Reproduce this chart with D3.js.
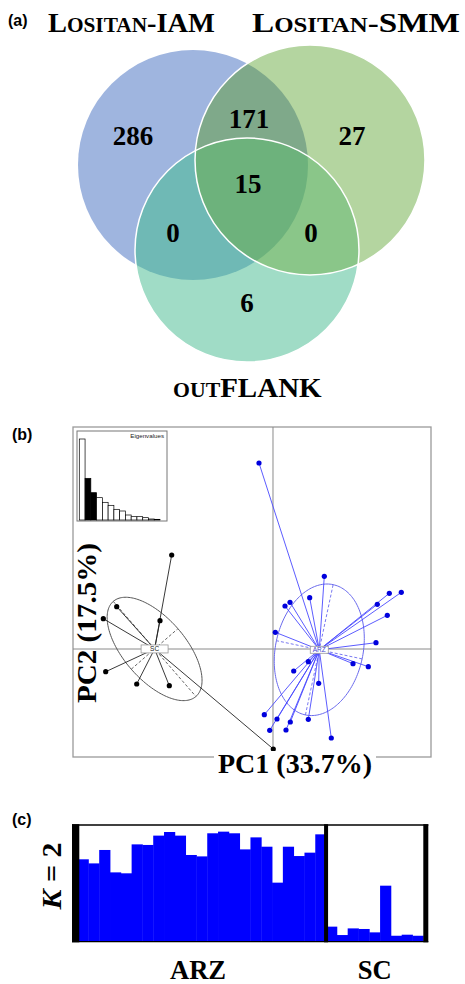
<!DOCTYPE html>
<html><head><meta charset="utf-8">
<script src="https://cdn.jsdelivr.net/npm/d3@7"></script>
<style>body{margin:0;background:#fff}svg{display:block}</style>
</head><body>
<script>
// ---------------- DATA ----------------
// (a) Venn diagram
const vennRegions = ["A", "B", "C", "AB", "AC", "BC", "ABC"];
const vennCounts  = [286, 27, 6, 171, 0, 0, 15];
// (b) PCA scores
const scPC1  = [-3.377, -3.767, -5.21, -5.657, -5.577, -4.543, -3.457, 0.01];
const scPC2  = [3.133, 0.943, 1.41, 1.01, -0.757, -1.167, -1.223, -3.333];
const arzPC1 = [3.877, 4.277, 3.477, 3.81, 3.433, 2.667, 3.177, 1.223, 0.567, 0.4, 0.077, 1.177,
                0.69, 1.523, -0.29, 0.133, 0.577, 1.177, -0.11, 0.433, 1.943, -0.467, 1.71];
const arzPC2 = [1.857, 1.89, 1.49, 1.123, 0.21, -0.49, -0.59, 1.71, 1.557, 1.433, 0.557, -0.423,
                -0.733, -1.143, -2.19, -2.333, -2.433, -2.343, -2.71, -2.7, -2.967, 6.2, 2.423];
const ellipseSC  = [2.1, 1.03, -49];   // semi-axis a, semi-axis b, angle
const ellipseARZ = [2.22, 1.46, 78];
const eigenvalues = [243, 125, 82, 67, 53, 44, 32, 27, 15, 10, 10, 7, 3, 2];
const axisLabels = ["PC1 (33.7%)", "PC2 (17.5%)"];
// (c) STRUCTURE K = 2 membership
const arzQ = [0.706, 0.671, 0.786, 0.594, 0.586, 0.834, 0.829, 0.909, 0.94, 0.909, 0.743, 0.731,
              0.929, 0.943, 0.929, 0.791, 0.894, 0.814, 0.506, 0.814, 0.734, 0.763, 0.92];
const scQ  = [0.129, 0.057, 0.114, 0.109, 0.08, 0.48, 0.051, 0.06, 0.051];
const popLabels = ["ARZ", "SC"];

// ---------------- SETUP ----------------
const W = 465, H = 984;
const svg = d3.select("body").append("svg").attr("width", W).attr("height", H);
const SERIF = "'Liberation Serif','Times New Roman',serif";
const SANS = "'Liberation Sans',Arial,sans-serif";

function fitLabel(parent, x, y, parts, width, rot, anchor) {
  const g = parent.append("g");
  const t = g.append("text").attr("font-family", SERIF).attr("font-weight", "bold")
    .attr("text-anchor", anchor || "start").attr("fill", "#000");
  parts.forEach(p => {
    const s = t.append("tspan").text(p[0]).attr("font-size", p[1]);
    if (p[2]) s.attr("font-style", p[2]);
  });
  const bw = t.node().getBBox().width;
  g.attr("transform", `translate(${x},${y}) rotate(${rot || 0}) scale(${width / bw},1)`);
  return g;
}
function panelLetter(txt, x, y) {
  svg.append("text").attr("x", x).attr("y", y).attr("font-family", SANS)
    .attr("font-weight", "bold").attr("font-size", 16).text(txt);
}

// ---------------- (a) VENN ----------------
const circ = { A: { x: 193, y: 165, r: 115 }, B: { x: 310, y: 160, r: 115 }, C: { x: 247, y: 250, r: 112 } };
const col = { A: "#9fb5df", B: "#b4d5a0", C: "#a0dcc6", AB: "#7fa98a", AC: "#6fb9b5", BC: "#8ac689", ABC: "#6db27c" };
const defs = svg.append("defs");
["A", "B"].forEach(k => defs.append("clipPath").attr("id", "clip" + k)
  .append("circle").attr("cx", circ[k].x).attr("cy", circ[k].y).attr("r", circ[k].r));
const venn = svg.append("g");
function circle(parent, k, fill) {
  return parent.append("circle").attr("cx", circ[k].x).attr("cy", circ[k].y).attr("r", circ[k].r).attr("fill", fill);
}
circle(venn, "A", col.A); circle(venn, "B", col.B); circle(venn, "C", col.C);
circle(venn.append("g").attr("clip-path", "url(#clipA)"), "B", col.AB);
circle(venn.append("g").attr("clip-path", "url(#clipA)"), "C", col.AC);
circle(venn.append("g").attr("clip-path", "url(#clipB)"), "C", col.BC);
circle(venn.append("g").attr("clip-path", "url(#clipA)").append("g").attr("clip-path", "url(#clipB)"), "C", col.ABC);
["B", "C"].forEach(k => circle(venn, k, "none").attr("stroke", "#fff").attr("stroke-width", 1.5));

const countPos = { A: [133, 145], B: [352, 145], C: [247, 312], AB: [249, 128], AC: [173, 242], BC: [311, 242], ABC: [248, 193] };
venn.selectAll("text.count").data(vennRegions).join("text").attr("class", "count")
  .attr("x", d => countPos[d][0]).attr("y", d => countPos[d][1])
  .attr("text-anchor", "middle").attr("font-family", SERIF).attr("font-weight", "bold")
  .attr("font-size", 27).text((d, i) => vennCounts[i]);

fitLabel(svg, 48, 32, [["L", 28], ["OSITAN", 21], ["-IAM", 28]], 167);
fitLabel(svg, 252, 32, [["L", 28], ["OSITAN", 21], ["-SMM", 28]], 208);
fitLabel(svg, 173, 397, [["OUT", 21], ["FLANK", 28]], 149);
panelLetter("(a)", 8, 26);

// ---------------- (b) PCA ----------------
panelLetter("(b)", 12, 440);
const x = d3.scaleLinear().domain([-6.667, 5.267]).range([73, 431]);
const y = d3.scaleLinear().domain([-3.6, 7.4]).range([757, 427]);
const pca = svg.append("g");
pca.append("rect").attr("x", x.range()[0]).attr("y", y.range()[1])
  .attr("width", x.range()[1] - x.range()[0]).attr("height", y.range()[0] - y.range()[1])
  .attr("fill", "none").attr("stroke", "#9a9a9a").attr("stroke-width", 1.3);
pca.append("line").attr("x1", x(0)).attr("x2", x(0)).attr("y1", y.range()[0]).attr("y2", y.range()[1])
  .attr("stroke", "#8a8a8a").attr("stroke-width", 1);
pca.append("line").attr("y1", y(0)).attr("y2", y(0)).attr("x1", x.range()[0]).attr("x2", x.range()[1])
  .attr("stroke", "#8a8a8a").attr("stroke-width", 1);

// eigenvalue inset
const inset = pca.append("g");
inset.append("rect").attr("x", 77).attr("y", 431).attr("width", 90).attr("height", 90)
  .attr("fill", "#fff").attr("stroke", "#777").attr("stroke-width", 1);
const ex = d3.scaleBand().domain(d3.range(eigenvalues.length)).range([79.3, 160]);
const ey = d3.scaleLinear().domain([0, d3.max(eigenvalues)]).range([520, 439]);
inset.selectAll("rect.eig").data(eigenvalues).join("rect").attr("class", "eig")
  .attr("x", (d, i) => ex(i)).attr("width", ex.bandwidth()).attr("y", d => ey(d))
  .attr("height", d => ey(0) - ey(d)).attr("fill", (d, i) => (i === 1 || i === 2) ? "#000" : "#fff")
  .attr("stroke", "#000").attr("stroke-width", 0.7);
inset.append("text").attr("x", 164).attr("y", 437.5).attr("text-anchor", "end")
  .attr("font-family", SANS).attr("font-size", 6.2).attr("fill", "#222").text("Eigenvalues");

function ellipsePath(c, e) {
  const [a, b, deg] = e, th = deg * Math.PI / 180;
  const pts = d3.range(0, 361, 2).map(t0 => {
    const t = t0 * Math.PI / 180;
    return [x(c[0] + a * Math.cos(th) * Math.cos(t) - b * Math.sin(th) * Math.sin(t)),
            y(c[1] + a * Math.sin(th) * Math.cos(t) + b * Math.cos(th) * Math.sin(t))];
  });
  return d3.line()(pts) + "Z";
}
function drawGroup(px, py, ell, name, ptCol, lineCol, ellCol, boxW, boxH) {
  const g = pca.append("g");
  const c = [d3.mean(px), d3.mean(py)];
  const [a, b, deg] = ell, th = deg * Math.PI / 180;
  const axes = [[a * Math.cos(th), a * Math.sin(th)], [-b * Math.sin(th), b * Math.cos(th)]];
  g.append("path").attr("d", ellipsePath(c, ell)).attr("fill", "none").attr("stroke", ellCol).attr("stroke-width", 1);
  g.selectAll("line.ax").data(axes).join("line").attr("class", "ax")
    .attr("x1", d => x(c[0] - d[0])).attr("y1", d => y(c[1] - d[1]))
    .attr("x2", d => x(c[0] + d[0])).attr("y2", d => y(c[1] + d[1]))
    .attr("stroke", ellCol).attr("stroke-width", 0.9).attr("stroke-dasharray", "3,2");
  g.selectAll("line.star").data(px).join("line").attr("class", "star")
    .attr("x1", x(c[0])).attr("y1", y(c[1]))
    .attr("x2", d => x(d)).attr("y2", (d, i) => y(py[i]))
    .attr("stroke", lineCol).attr("stroke-width", 0.9);
  g.selectAll("circle").data(px).join("circle")
    .attr("cx", d => x(d)).attr("cy", (d, i) => y(py[i])).attr("r", 2.6).attr("fill", ptCol);
  g.append("rect").attr("x", x(c[0]) - boxW / 2).attr("y", y(c[1]) - boxH / 2)
    .attr("width", boxW).attr("height", boxH).attr("fill", "#fff").attr("stroke", "#999").attr("stroke-width", 0.8);
  g.append("text").attr("x", x(c[0])).attr("y", y(c[1]) + 2.3).attr("text-anchor", "middle")
    .attr("font-family", SANS).attr("font-size", 6.5).attr("fill", ptCol === "#000" ? "#222" : "#4444cc").text(name);
}
drawGroup(scPC1, scPC2, ellipseSC, popLabels[1], "#000", "#222", "#555", 27, 8);
drawGroup(arzPC1, arzPC2, ellipseARZ, popLabels[0], "#0000dd", "#4a4aff", "#6a6aee", 18, 7);

pca.append("rect").attr("x", 214).attr("y", 751).attr("width", 162).attr("height", 30).attr("fill", "#fff");
fitLabel(pca, 218, 773, [[axisLabels[0], 28]], 154);
fitLabel(pca, 95.5, 623, [[axisLabels[1], 28]], 160, -90, "middle");

// ---------------- (c) STRUCTURE ----------------
panelLetter("(c)", 12, 825);
const q = arzQ.concat(scQ);
const xb = d3.scaleBand().domain(d3.range(q.length)).range([77.6, 423.3]);
const yb = d3.scaleLinear().domain([0, 1]).range([941.7, 825]);
const st = svg.append("g");
st.selectAll("rect.q").data(q).join("rect").attr("class", "q")
  .attr("x", (d, i) => xb(i)).attr("width", xb.bandwidth() + 0.4)
  .attr("y", d => yb(d)).attr("height", d => yb(0) - yb(d)).attr("fill", "#0000ff");
st.append("line").attr("x1", 72).attr("x2", 428.3).attr("y1", yb(1)).attr("y2", yb(1)).attr("stroke", "#000").attr("stroke-width", 1.6);
st.append("line").attr("x1", 72).attr("x2", 428.3).attr("y1", yb(0)).attr("y2", yb(0)).attr("stroke", "#000").attr("stroke-width", 1.2);
st.append("rect").attr("x", 72).attr("y", yb(1) - 0.8).attr("width", 7.3).attr("height", yb(0) - yb(1) + 1.4).attr("fill", "#000");
const sepX = xb(arzQ.length);
st.append("rect").attr("x", sepX - 2).attr("y", yb(1) - 0.8).attr("width", 4).attr("height", yb(0) - yb(1) + 1.4).attr("fill", "#000");
st.append("rect").attr("x", 423.3).attr("y", yb(1) - 0.8).attr("width", 5).attr("height", yb(0) - yb(1) + 1.4).attr("fill", "#000");
st.selectAll("text.pop").data(popLabels).join("text").attr("class", "pop")
  .attr("x", (d, i) => i === 0 ? 198 : (sepX + 423.3) / 2).attr("y", 979)
  .attr("text-anchor", "middle").attr("font-family", SERIF).attr("font-weight", "bold")
  .attr("font-size", 26.6).text(d => d);
fitLabel(svg, 61, 876, [["K", 27, "italic"], [" = 2", 27]], 68, -90, "middle");
</script>
</body></html>
